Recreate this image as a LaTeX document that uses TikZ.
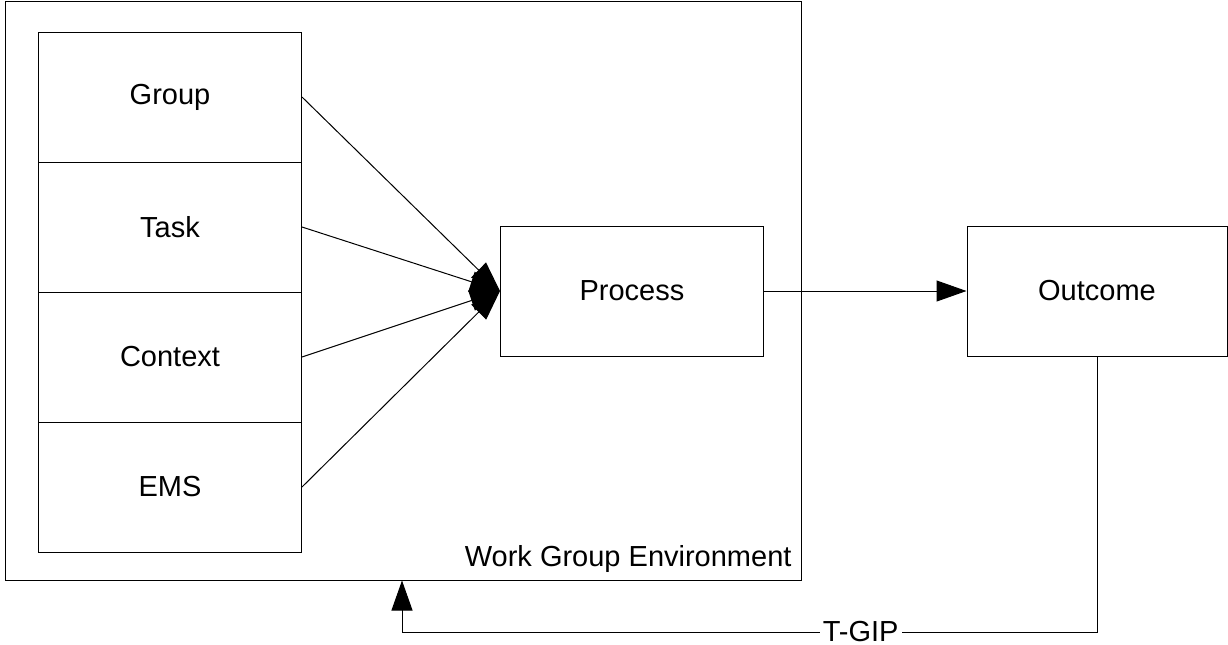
\documentclass[tikz,border=0pt]{standalone}
\usepackage{fontspec}
\setmainfont{Liberation Sans}
\usetikzlibrary{arrows.meta}
\begin{document}
\begin{tikzpicture}[x=0.5pt,y=-0.5pt,line width=0.5pt]
		\tikzset{block/.style = {shape=rectangle,draw,minimum width=131.5pt,minimum height=65pt,font=\fontsize{14.5}{17}\selectfont}}
		\tikzset{edge/.style = {-{Triangle[length=15pt,width=10.5pt]}}}
		\useasboundingbox (0,0) rectangle (1228,644);
		\node[draw,minimum width=398pt,minimum height=289.5pt] (env) at (403,290.5) {};
		\node[anchor=east,inner sep=0pt,font=\fontsize{14.5}{17}\selectfont] (envlabel) at (792,559) {Work Group Environment};
		\node[block] (grp) at (170,97) {Group};
		\node[block] (tsk) at (170,227) {Task};
		\node[block] (ctx) at (170,357) {Context};
		\node[block] (ems) at (170,487) {EMS};
		\node[block] (proc) at (632,291) {Process};
		\node[block,minimum width=130pt] (outc) at (1097,291) {Outcome};
		\coordinate (fb) at (402,632);
		\path[draw,edge] (grp.east) -- (proc.west);
		\path[draw,edge] (tsk.east) -- (proc.west);
		\path[draw,edge] (ctx.east) -- (proc.west);
		\path[draw,edge] (ems.east) -- (proc.west);
		\path[draw,edge] (proc.east) -- (outc.west);
		\path[draw,edge] (outc.south) |- node[pos=0.67,fill=white,inner xsep=1.5pt,inner ysep=0pt,font=\fontsize{14.5}{17}\selectfont] {T-GIP} (fb) -- (fb |- env.south);
	\end{tikzpicture}
\end{document}
